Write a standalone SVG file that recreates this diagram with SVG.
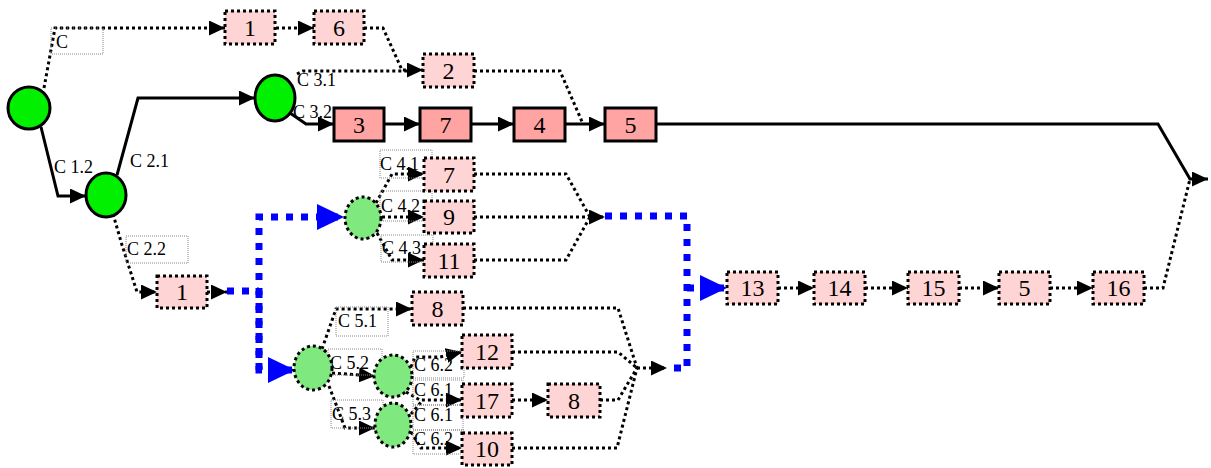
<svg xmlns="http://www.w3.org/2000/svg" width="1211" height="468" viewBox="0 0 1211 468">
<style>
.bg{fill:#ffffff}
.sol{fill:none;stroke:#000;stroke-width:3}
.dot{fill:none;stroke:#000;stroke-width:3;stroke-dasharray:3 3}
.blu{fill:none;stroke:#0000ff;stroke-width:7;stroke-dasharray:7 8}
.bx{fill:#ffa3a3;stroke:#000;stroke-width:3}
.dbx{fill:#ffd4d4;stroke:#000;stroke-width:3;stroke-dasharray:3 3}
.gc{fill:#00f000;stroke:#000;stroke-width:3}
.dgc{fill:#7fe87f;stroke:#000;stroke-width:3;stroke-dasharray:3 3}
.lb{fill:none;stroke:#888;stroke-width:1;stroke-dasharray:1 1}
.num{font-family:"Liberation Serif",serif;font-size:24px;text-anchor:middle;fill:#000}
.lt{font-family:"Liberation Serif",serif;font-size:18px;fill:#000}
</style>
<defs>
<marker id="ah" markerUnits="userSpaceOnUse" markerWidth="16" markerHeight="15" refX="16" refY="7.5" orient="auto"><path d="M0,0 L16,7.5 L0,15 z" fill="#000"/></marker>
<marker id="bh" markerUnits="userSpaceOnUse" markerWidth="27" markerHeight="26" refX="27" refY="13" orient="auto"><path d="M0,0 L27,13 L0,26 z" fill="#0000ff"/></marker>
</defs>
<rect class="bg" x="0" y="0" width="1211" height="468"/>
<g id="connectors">
<path class="sol" d="M41,127 L58,196 L86,196" marker-end="url(#ah)"/>
<path class="sol" d="M117,175 L138,98 L255,98" marker-end="url(#ah)"/>
<path class="sol" d="M290,113 L306,124 L334,124" marker-end="url(#ah)"/>
<path class="sol" d="M384,124 L420,124" marker-end="url(#ah)"/>
<path class="sol" d="M471,124 L514,124" marker-end="url(#ah)"/>
<path class="sol" d="M565,124 L605,124" marker-end="url(#ah)"/>
<path class="sol" d="M656,124 L1158,124 L1190,179 L1208,179" marker-end="url(#ah)"/>
<path class="dot" d="M44,88 L55,28 L225,28" marker-end="url(#ah)"/>
<path class="dot" d="M276,28 L314,28" marker-end="url(#ah)"/>
<path class="dot" d="M364,28 L383,28 L402,70 L423,70" marker-end="url(#ah)"/>
<path class="dot" d="M297,74 L303,71 L410,71"/>
<path class="dot" d="M474,71 L560,71 L583,124"/>
<path class="dot" d="M113,214 L122,245 L137,292 L157,292" marker-end="url(#ah)"/>
<path class="dot" d="M207,292 L227,292" marker-end="url(#ah)"/>
<path class="dot" d="M376,203 L392,174 L424,174" marker-end="url(#ah)"/>
<path class="dot" d="M382,217 L424,217" marker-end="url(#ah)"/>
<path class="dot" d="M377,233 L392,260 L424,260" marker-end="url(#ah)"/>
<path class="dot" d="M474,174 L566,174 L590,217"/>
<path class="dot" d="M474,217 L605,217" marker-end="url(#ah)"/>
<path class="dot" d="M474,260 L566,260 L590,217"/>
<path class="dot" d="M322,349 L336,309 L412,309" marker-end="url(#ah)"/>
<path class="dot" d="M332,373 L375,376" marker-end="url(#ah)"/>
<path class="dot" d="M329,386 L345,428 L375,428" marker-end="url(#ah)"/>
<path class="dot" d="M411,367 L415,357 L440,357 L462,352" marker-end="url(#ah)"/>
<path class="dot" d="M406,392 L420,400 L462,400" marker-end="url(#ah)"/>
<path class="dot" d="M411,414 L422,401"/>
<path class="dot" d="M411,432 L421,448 L462,448" marker-end="url(#ah)"/>
<path class="dot" d="M512,400 L548,400" marker-end="url(#ah)"/>
<path class="dot" d="M463,308 L618,308 L637,368"/>
<path class="dot" d="M512,352 L618,352 L637,368"/>
<path class="dot" d="M600,400 L618,400 L637,368"/>
<path class="dot" d="M512,448 L617,448 L637,368"/>
<path class="dot" d="M637,368 L667,368" marker-end="url(#ah)"/>
<path class="dot" d="M778,288 L814,288" marker-end="url(#ah)"/>
<path class="dot" d="M865,288 L908,288" marker-end="url(#ah)"/>
<path class="dot" d="M959,288 L999,288" marker-end="url(#ah)"/>
<path class="dot" d="M1050,288 L1093,288" marker-end="url(#ah)"/>
<path class="dot" d="M1144,288 L1163,288 L1190,179"/>
<path class="blu" d="M227,291 L259,291"/>
<path class="blu" d="M259,370 L259,217 L344,217" marker-end="url(#bh)"/>
<path class="blu" d="M259,291 L259,370 L295,370" marker-end="url(#bh)"/>
<path class="blu" d="M605,216 L687,216 L687,368 L667,368"/>
<path class="blu" d="M687,288 L727,288" marker-end="url(#bh)"/>
</g>
<g id="labels">
<rect class="lb" x="51" y="28" width="52" height="26"/><text class="lt" x="56" y="48">C</text>
<text class="lt" x="297" y="86">C 3.1</text>
<text class="lt" x="293" y="118">C 3.2</text>
<text class="lt" x="54" y="173">C 1.2</text>
<text class="lt" x="130" y="167">C 2.1</text>
<rect class="lb" x="126" y="236" width="62" height="27"/><text class="lt" x="127" y="255">C 2.2</text>
<rect class="lb" x="380" y="150" width="52" height="28"/><text class="lt" x="380" y="170">C 4.1</text>
<rect class="lb" x="380" y="191" width="52" height="30"/><text class="lt" x="381" y="212">C 4.2</text>
<rect class="lb" x="381" y="235" width="52" height="27"/><text class="lt" x="382" y="254">C 4.3</text>
<rect class="lb" x="336" y="307" width="52" height="29"/><text class="lt" x="338" y="327">C 5.1</text>
<rect class="lb" x="328" y="349" width="54" height="26"/><text class="lt" x="330" y="369">C 5.2</text>
<rect class="lb" x="331" y="400" width="52" height="28"/><text class="lt" x="332" y="420">C 5.3</text>
<rect class="lb" x="413" y="351" width="51" height="27"/><text class="lt" x="414" y="371">C 6.2</text>
<rect class="lb" x="413" y="380" width="50" height="25"/><text class="lt" x="414" y="396">C 6.1</text>
<rect class="lb" x="413" y="405" width="50" height="25"/><text class="lt" x="414" y="421">C 6.1</text>
<rect class="lb" x="413" y="430" width="51" height="24"/><text class="lt" x="414" y="445">C 6.2</text>
</g>
<g id="nA"><ellipse class="gc" cx="29" cy="108" rx="21" ry="21"/></g>
<g id="nB"><ellipse class="gc" cx="106" cy="195" rx="20" ry="22"/></g>
<g id="nC"><ellipse class="gc" cx="275" cy="98" rx="20" ry="23"/></g>
<g id="nD"><ellipse class="dgc" cx="363" cy="218" rx="18" ry="21"/></g>
<g id="nE"><ellipse class="dgc" cx="313" cy="368" rx="19" ry="22"/></g>
<g id="nF"><ellipse class="dgc" cx="393" cy="376" rx="19" ry="21"/></g>
<g id="nG"><ellipse class="dgc" cx="393" cy="425" rx="18" ry="22"/></g>
<g id="t1"><rect class="dbx" x="225" y="11" width="50" height="33"/><text class="num" x="250" y="36">1</text></g>
<g id="t6"><rect class="dbx" x="314" y="11" width="50" height="33"/><text class="num" x="339" y="36">6</text></g>
<g id="t2"><rect class="dbx" x="423" y="54" width="51" height="33"/><text class="num" x="448.5" y="79">2</text></g>
<g id="s3"><rect class="bx" x="334" y="108" width="50" height="33"/><text class="num" x="359" y="133">3</text></g>
<g id="s7"><rect class="bx" x="420" y="108" width="51" height="33"/><text class="num" x="445.5" y="133">7</text></g>
<g id="s4"><rect class="bx" x="514" y="108" width="51" height="33"/><text class="num" x="539.5" y="133">4</text></g>
<g id="s5"><rect class="bx" x="605" y="108" width="51" height="33"/><text class="num" x="630.5" y="133">5</text></g>
<g id="l1"><rect class="dbx" x="157" y="276" width="50" height="32"/><text class="num" x="182" y="300">1</text></g>
<g id="b7"><rect class="dbx" x="424" y="158" width="50" height="33"/><text class="num" x="449" y="183">7</text></g>
<g id="b9"><rect class="dbx" x="424" y="201" width="50" height="32"/><text class="num" x="449" y="225">9</text></g>
<g id="b11"><rect class="dbx" x="424" y="244" width="50" height="33"/><text class="num" x="449" y="269">11</text></g>
<g id="b8a"><rect class="dbx" x="412" y="292" width="51" height="33"/><text class="num" x="437.5" y="317">8</text></g>
<g id="b12"><rect class="dbx" x="462" y="335" width="50" height="33"/><text class="num" x="487" y="360">12</text></g>
<g id="b17"><rect class="dbx" x="462" y="384" width="50" height="33"/><text class="num" x="487" y="409">17</text></g>
<g id="b10"><rect class="dbx" x="462" y="433" width="50" height="32"/><text class="num" x="487" y="457">10</text></g>
<g id="b8b"><rect class="dbx" x="548" y="384" width="52" height="33"/><text class="num" x="574" y="409">8</text></g>
<g id="b13"><rect class="dbx" x="727" y="272" width="51" height="32"/><text class="num" x="752.5" y="296">13</text></g>
<g id="b14"><rect class="dbx" x="814" y="272" width="51" height="32"/><text class="num" x="839.5" y="296">14</text></g>
<g id="b15"><rect class="dbx" x="908" y="272" width="51" height="32"/><text class="num" x="933.5" y="296">15</text></g>
<g id="b5"><rect class="dbx" x="999" y="272" width="51" height="32"/><text class="num" x="1024.5" y="296">5</text></g>
<g id="b16"><rect class="dbx" x="1093" y="272" width="51" height="32"/><text class="num" x="1118.5" y="296">16</text></g>
</svg>
